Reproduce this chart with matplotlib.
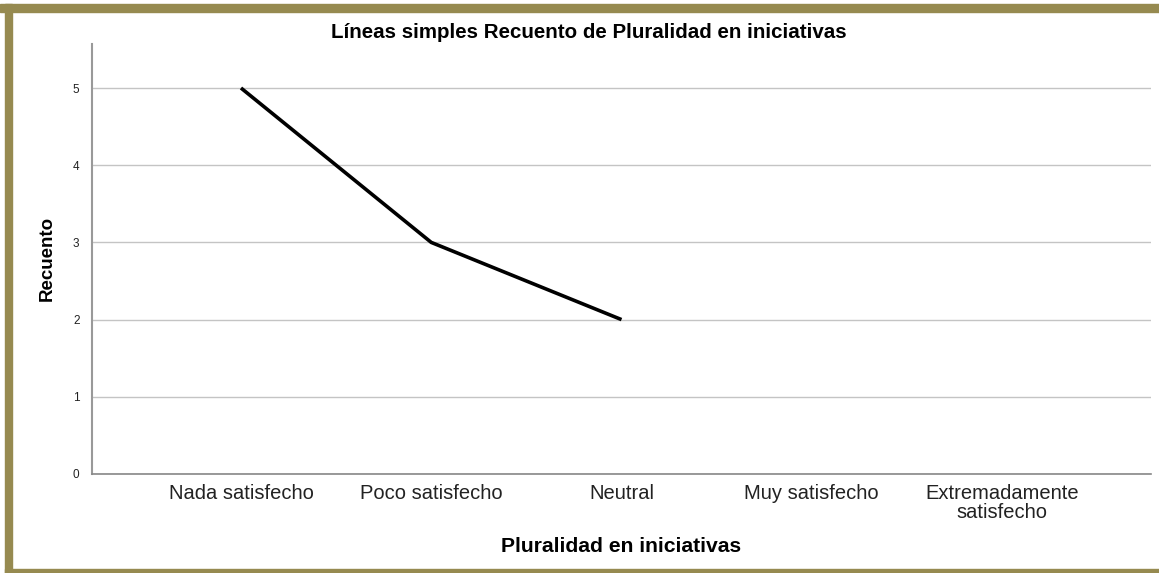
import matplotlib
matplotlib.use("Agg")
import matplotlib.pyplot as plt
from matplotlib.patches import Rectangle

categories = ["Nada satisfecho", "Poco satisfecho", "Neutral", "Muy satisfecho", "Extremadamente\nsatisfecho"]
plot_categories = ["Nada satisfecho", "Poco satisfecho", "Neutral"]
counts = [5, 3, 2]
yticks = [0, 1, 2, 3, 4, 5]

W, H = 1159, 573
fig = plt.figure(figsize=(W / 100, H / 100), dpi=100)
fig.patch.set_facecolor("white")
plt.rcParams["font.family"] = ["Liberation Sans", "DejaVu Sans"]

border = "#968A50"
fig.patches.append(Rectangle((0, 1 - 12 / H), 1, 8 / H, transform=fig.transFigure, color=border, zorder=0))
fig.patches.append(Rectangle((5 / W, 0), 7 / W, 1 - 4 / H, transform=fig.transFigure, color=border, zorder=0))
fig.patches.append(Rectangle((5 / W, 0), 1, 4 / H, transform=fig.transFigure, color=border, zorder=0))

ax = fig.add_axes([92 / W, 1 - 474 / H, (1151 - 92) / W, (474 - 44) / H])
x = [categories.index(c) for c in plot_categories]
ax.plot(x, counts, color="black", lw=2.6, solid_capstyle="butt", zorder=3)

ax.set_xlim(-0.783, 4.783)
ax.set_ylim(0, 5.57)
ax.set_xticks(range(len(categories)))
ax.set_xticklabels(categories, fontsize=14.5, linespacing=0.95, color="#222222")
ax.set_yticks(yticks)
ax.set_yticklabels([str(t) for t in yticks], fontsize=8.5, color="#222222")
ax.tick_params(axis="both", length=0)
ax.tick_params(axis="x", pad=7.5)
ax.tick_params(axis="y", pad=9)
ax.grid(axis="y", color="#c4c4c4", lw=1)
ax.set_axisbelow(True)
for s in ["top", "right"]:
    ax.spines[s].set_visible(False)
ax.spines["left"].set_color("#999999")
ax.spines["bottom"].set_color("#888888")
ax.spines["left"].set_linewidth(1.5)
ax.spines["bottom"].set_linewidth(1.2)

fig.text(589 / W, 1 - 32.5 / H, "Líneas simples Recuento de Pluralidad en iniciativas",
         ha="center", va="center", fontsize=14.8, fontweight="bold")
fig.text(621 / W, 1 - 547 / H, "Pluralidad en iniciativas", ha="center", va="center",
         fontsize=15.2, fontweight="bold")
fig.text(47 / W, 1 - 258 / H, "Recuento", ha="center", va="center", rotation=90,
         fontsize=13.5, fontweight="bold")

fig.savefig("out.png", dpi=100)
